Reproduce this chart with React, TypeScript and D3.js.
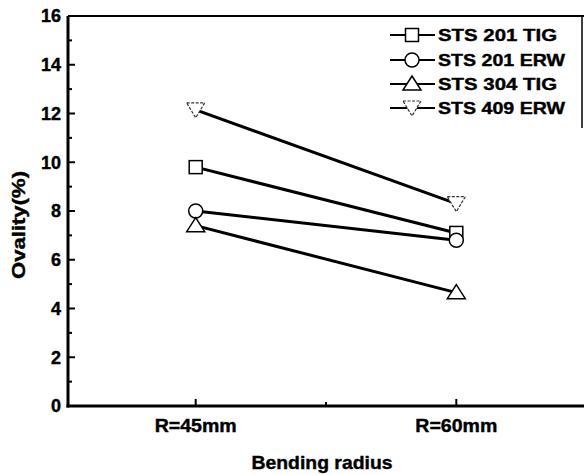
import React from "react";
import * as d3 from "d3";

const categories = ["R=45mm", "R=60mm"];
const seriesNames = ["STS 201 TIG", "STS 201 ERW", "STS 304 TIG", "STS 409 ERW"];
const sts201TIG = [9.8, 7.1];
const sts201ERW = [8.0, 6.8];
const sts304TIG = [7.4, 4.65];
const sts409ERW = [12.15, 8.3];
const yTicks = [0, 2, 4, 6, 8, 10, 12, 14, 16];
const yMinorTicks = [1, 3, 5, 7, 9, 11, 13, 15];

const seriesValues = [sts201TIG, sts201ERW, sts304TIG, sts409ERW];
const markerTypes = ["square", "circle", "triUp", "triDown"];

const W = 584, H = 475;
const left = 68, right = 584, top = 16, bottom = 406;
const FONT = "'Liberation Sans', Arial, Helvetica, sans-serif";

function Marker({ type, x, y }: { type: string; x: number; y: number }) {
  if (type === "square")
    return <rect x={x - 6.5} y={y - 6.5} width={13} height={13} fill="#fff" stroke="#000" strokeWidth={1.5} />;
  if (type === "circle")
    return <circle cx={x} cy={y} r={7} fill="#fff" stroke="#000" strokeWidth={1.5} />;
  if (type === "triUp")
    return <path d={`M${x},${y - 8}L${x + 9},${y + 6}L${x - 9},${y + 6}Z`} fill="#fff" stroke="#000" strokeWidth={1.5} />;
  return <path d={`M${x - 9},${y - 7}L${x + 9},${y - 7}L${x},${y + 8}Z`} fill="#fff" stroke="#333" strokeWidth={1.2} strokeDasharray="3,1.5" />;
}

export default function App() {
  const x = d3.scalePoint<string>().domain(categories).range([left, right]).padding(0.49);
  const y = d3.scaleLinear().domain([0, 16]).range([bottom, top]);
  const line = d3.line<number>().x((_, i) => x(categories[i]) as number).y((d) => y(d));
  const midX = ((x(categories[0]) as number) + (x(categories[1]) as number)) / 2;
  const legendY = [35, 60, 84, 108];
  const textStroke = { stroke: "#000", strokeWidth: 0.4 };

  return (
    <svg width={W} height={H} style={{ position: "absolute", left: 0, top: 0, background: "#fff" }} fontFamily={FONT} fontWeight="bold">
      {seriesValues.map((vals, si) => (
        <path key={"l" + si} d={line(vals) || ""} fill="none" stroke="#000" strokeWidth={3} />
      ))}
      {seriesValues.map((vals, si) =>
        vals.map((v, i) => <Marker key={"m" + si + i} type={markerTypes[si]} x={x(categories[i]) as number} y={y(v)} />)
      )}
      <line x1={left} y1={top} x2={left} y2={bottom + 1.5} stroke="#000" strokeWidth={3} />
      <line x1={left - 1.5} y1={bottom} x2={right} y2={bottom} stroke="#000" strokeWidth={3} />
      <line x1={left} y1={top} x2={right} y2={top} stroke="#000" strokeWidth={2} />
      <line x1={582} y1={top} x2={582} y2={128} stroke="#000" strokeWidth={1.5} />
      {yTicks.map((t) => (
        <g key={"yt" + t}>
          <line x1={left} x2={left + 7} y1={y(t)} y2={y(t)} stroke="#000" strokeWidth={2} />
          <text x={61} y={y(t)} dy="0.36em" textAnchor="end" fontSize={18} {...textStroke}>{t}</text>
        </g>
      ))}
      {yMinorTicks.map((t) => (
        <line key={"ym" + t} x1={left} x2={left + 4} y1={y(t)} y2={y(t)} stroke="#000" strokeWidth={2} />
      ))}
      {categories.map((c) => (
        <g key={"xt" + c}>
          <line x1={x(c) as number} x2={x(c) as number} y1={bottom} y2={bottom - 7} stroke="#000" strokeWidth={2} />
          <text x={x(c) as number} y={432} textAnchor="middle" fontSize={18} textLength={82} lengthAdjust="spacingAndGlyphs" {...textStroke}>{c}</text>
        </g>
      ))}
      <line x1={midX} x2={midX} y1={bottom} y2={bottom - 4} stroke="#000" strokeWidth={2} />
      <text x={322} y={469} textAnchor="middle" fontSize={19} textLength={141} lengthAdjust="spacingAndGlyphs" {...textStroke}>Bending radius</text>
      <text transform={`translate(25,225) rotate(-90)`} textAnchor="middle" fontSize={18} textLength={108} lengthAdjust="spacingAndGlyphs" {...textStroke}>Ovality(%)</text>
      {seriesNames.map((n, i) => (
        <g key={"lg" + i}>
          <line x1={390} x2={435} y1={legendY[i]} y2={legendY[i]} stroke="#000" strokeWidth={2} />
          <Marker type={markerTypes[i]} x={412} y={legendY[i]} />
          <text x={438} y={legendY[i]} dy="0.36em" fontSize={17} textLength={n.includes("ERW") ? 127 : 119} lengthAdjust="spacingAndGlyphs" {...textStroke}>{n}</text>
        </g>
      ))}
    </svg>
  );
}
